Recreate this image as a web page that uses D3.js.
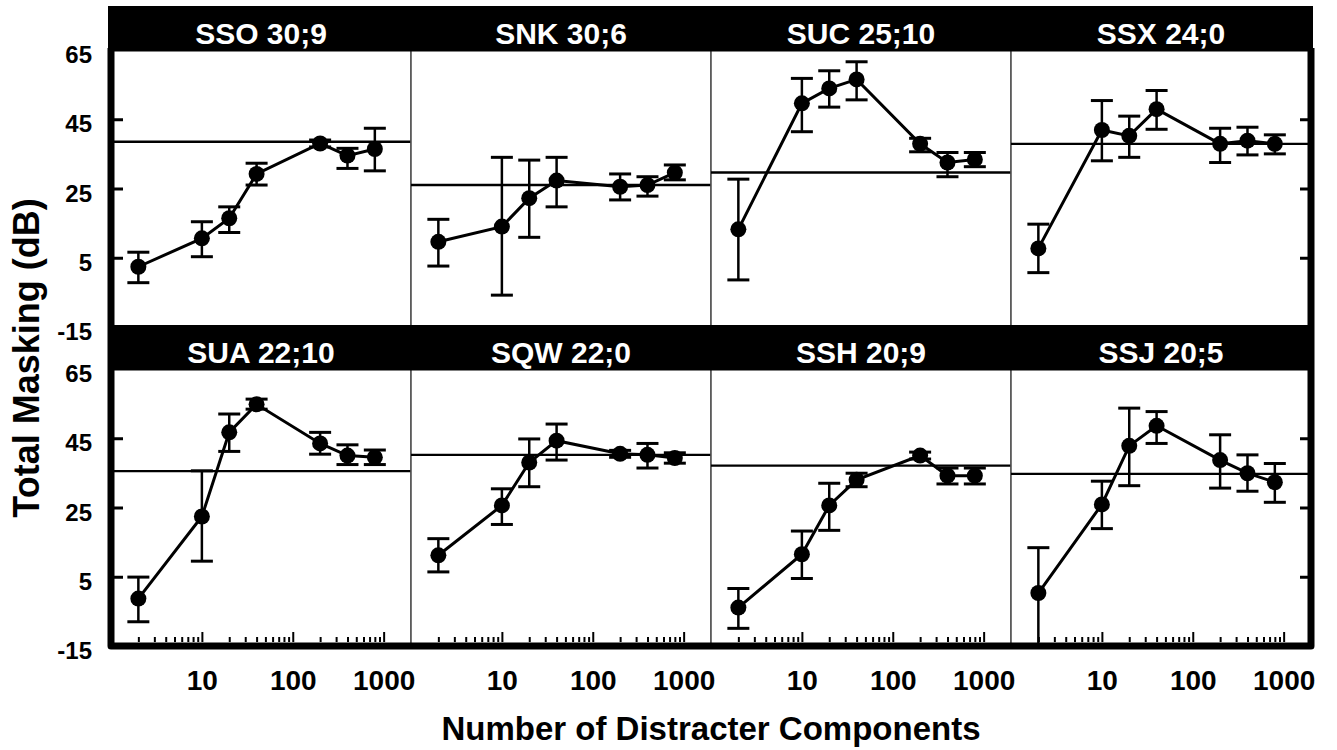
<!DOCTYPE html>
<html>
<head>
<meta charset="utf-8">
<script src="https://cdn.jsdelivr.net/npm/d3@7"></script>
<style>
  html, body { margin: 0; padding: 0; background: #fff; }
  text { font-family: "Liberation Sans", Arial, Helvetica, sans-serif; font-weight: bold; }
</style>
</head>
<body>
<script>
// ---- Data ----
const nComponents = [2, 10, 20, 40, 200, 400, 800];
const panelTitles = ["SSO 30;9", "SNK 30;6", "SUC 25;10", "SSX 24;0",
                     "SUA 22;10", "SQW 22;0", "SSH 20;9", "SSJ 20;5"];
const meanMasking = [
  [2.4, 10.6, 16.4, 29.2, 38.0, 34.5, 36.4],
  [9.6, 14.0, 22.2, 27.3, 25.5, 26.0, 29.6],
  [13.2, 49.6, 53.9, 56.5, 37.9, 32.5, 33.4],
  [7.7, 41.9, 40.2, 47.9, 37.9, 38.8, 37.9],
  [-1.3, 22.4, 46.7, 54.8, 43.5, 40.0, 39.5],
  [11.2, 25.6, 38.0, 44.3, 40.5, 40.2, 39.3],
  [-3.9, 11.5, 25.6, 33.0, 40.0, 34.2, 34.2],
  [0.3, 25.9, 42.8, 48.6, 38.7, 34.9, 32.3]
];
const errTop = [
  [6.6, 15.4, 19.7, 32.3, 39.0, 36.6, 42.4],
  [16.1, 34.0, 33.2, 34.0, 29.2, 28.4, 31.8],
  [27.7, 56.8, 59.0, 61.6, 39.5, 35.4, 35.4],
  [14.7, 50.4, 45.9, 53.3, 42.4, 42.7, 40.5],
  [4.9, 35.6, 52.0, 56.3, 46.7, 43.1, 41.6],
  [16.0, 30.4, 44.8, 49.1, 41.5, 43.5, 40.8],
  [1.6, 18.2, 32.0, 34.9, 41.0, 36.4, 36.4],
  [13.4, 32.6, 53.7, 52.7, 46.0, 40.2, 37.7]
];
const errBottom = [
  [-2.2, 5.3, 12.3, 26.0, 37.0, 30.8, 30.1],
  [2.6, -5.8, 10.9, 19.7, 21.7, 22.8, 27.5],
  [-1.4, 41.4, 48.5, 50.6, 35.6, 28.4, 31.3],
  [0.7, 33.0, 34.0, 42.1, 32.5, 34.7, 35.0],
  [-8.0, 9.5, 41.2, 53.4, 40.4, 37.4, 37.4],
  [6.4, 20.1, 31.0, 38.7, 39.5, 36.4, 37.8],
  [-9.9, 4.5, 18.4, 31.0, 39.0, 31.8, 31.8],
  [-15.0, 18.9, 31.3, 43.5, 30.6, 29.7, 26.5]
];
const referenceMasking = [38.5, 26.0, 29.6, 37.9, 35.5, 40.2, 37.1, 34.7];
const yTickLabels = [-15, 5, 25, 45, 65];
const yInnerTicks = [5, 25, 45];
const xTickLabels = [10, 100, 1000];
const yTitle = "Total Masking (dB)";
const xTitle = "Number of Distracter Components";

// ---- Layout ----
const W = 1337, H = 750;
const left = 111, panelW = 300, plotH = 277;
const rowTops = [50, 369];
const right = left + 4 * panelW;

const svg = d3.select("body").append("svg").attr("width", W).attr("height", H);
svg.append("rect").attr("width", W).attr("height", H).attr("fill", "#fff");

const x = d3.scaleLog().domain([1, 2000]).range([0, panelW]);
const y = d3.scaleLinear().domain([-15, 65]).range([plotH, 0]);
const fmt = v => String(v); // plain hyphen-minus like the reference

const line = d3.line().x((d, i) => x(nComponents[i])).y(d => y(d));

panelTitles.forEach((title, p) => {
  const row = Math.floor(p / 4), col = p % 4;
  const g = svg.append("g").attr("transform", `translate(${left + col * panelW},${rowTops[row]})`);

  g.append("rect").attr("x", 0).attr("y", 0).attr("width", panelW).attr("height", plotH)
    .attr("fill", "#fff").attr("stroke", "#555").attr("stroke-width", 1.6);

  // reference line
  g.append("line")
    .attr("x1", x.range()[0]).attr("x2", x.range()[1])
    .attr("y1", y(referenceMasking[p])).attr("y2", y(referenceMasking[p]))
    .attr("stroke", "#000").attr("stroke-width", 2.4);

  // connecting line
  g.append("path").datum(meanMasking[p]).attr("d", line)
    .attr("fill", "none").attr("stroke", "#000").attr("stroke-width", 3);

  // error bars
  const eb = g.selectAll(".eb").data(nComponents).enter().append("g");
  eb.append("line")
    .attr("x1", d => x(d)).attr("x2", d => x(d))
    .attr("y1", (d, i) => y(errTop[p][i])).attr("y2", (d, i) => y(errBottom[p][i]))
    .attr("stroke", "#000").attr("stroke-width", 2.5);
  eb.append("line")
    .attr("x1", d => x(d) - 11).attr("x2", d => x(d) + 11)
    .attr("y1", (d, i) => y(errTop[p][i])).attr("y2", (d, i) => y(errTop[p][i]))
    .attr("stroke", "#000").attr("stroke-width", 3);
  eb.append("line")
    .attr("x1", d => x(d) - 11).attr("x2", d => x(d) + 11)
    .attr("y1", (d, i) => y(errBottom[p][i])).attr("y2", (d, i) => y(errBottom[p][i]))
    .attr("stroke", "#000").attr("stroke-width", 3);

  // markers
  g.selectAll("circle").data(meanMasking[p]).enter().append("circle")
    .attr("cx", (d, i) => x(nComponents[i])).attr("cy", d => y(d)).attr("r", 8)
    .attr("fill", "#000");

  // x ticks on bottom row
  if (row === 1) {
    const all = x.ticks().filter(v => v > 1 && v <= 1000);
    const majors = all.filter(v => xTickLabels.includes(v));
    const minors = all.filter(v => !xTickLabels.includes(v));
    const minorAx = g.append("g").attr("transform", `translate(0,${plotH - 4})`)
      .call(d3.axisTop(x).tickValues(minors).tickSize(5).tickFormat(""));
    const majorAx = g.append("g").attr("transform", `translate(0,${plotH - 4})`)
      .call(d3.axisTop(x).tickValues(majors).tickSize(10).tickFormat(""));
    [minorAx, majorAx].forEach(a => {
      a.select(".domain").remove();
      a.selectAll(".tick line").attr("stroke", "#000").attr("stroke-width", 2);
    });
    const lab = g.append("g").attr("transform", `translate(0,${plotH})`)
      .call(d3.axisBottom(x).tickValues(xTickLabels).tickSize(0).tickPadding(24).tickFormat(fmt));
    lab.select(".domain").remove();
    lab.selectAll("text").attr("font-size", 28).attr("fill", "#000")
      .style("font-family", '"Liberation Sans", Arial, sans-serif').style("font-weight", "bold");
  }
});

// title bars
rowTops.forEach((top, row) => {
  svg.append("rect").attr("x", left - 3).attr("y", top - 44).attr("width", right - left + 5).attr("height", 45.5)
    .attr("fill", "#000");
  for (let col = 0; col < 4; col++) {
    svg.append("text")
      .attr("x", left + col * panelW + panelW / 2).attr("y", top - 6.5)
      .attr("text-anchor", "middle").attr("fill", "#fff").attr("font-size", 30)
      .text(panelTitles[row * 4 + col]);
  }
});

// thick frame: left, bottom, right
svg.append("path")
  .attr("d", d3.line()([[left, rowTops[0] - 2], [left, rowTops[1] + plotH], [right, rowTops[1] + plotH], [right, rowTops[0] - 2]]))
  .attr("fill", "none").attr("stroke", "#000").attr("stroke-width", 7).attr("stroke-linejoin", "round");

// y ticks and labels
rowTops.forEach(top => {
  const lt = svg.append("g").attr("transform", `translate(${left},${top})`)
    .call(d3.axisRight(y).tickValues(yInnerTicks).tickSize(12).tickFormat(""));
  const rt = svg.append("g").attr("transform", `translate(${right},${top})`)
    .call(d3.axisLeft(y).tickValues(yInnerTicks).tickSize(11).tickFormat(""));
  [lt, rt].forEach(a => {
    a.select(".domain").remove();
    a.selectAll(".tick line").attr("stroke", "#000").attr("stroke-width", 3);
  });
  const lab = svg.append("g").attr("transform", `translate(${left},${top})`)
    .call(d3.axisLeft(y).tickValues(yTickLabels).tickSize(0).tickPadding(19).tickFormat(fmt));
  lab.select(".domain").remove();
  lab.selectAll("text").attr("font-size", 24).attr("fill", "#000").attr("y", 5)
    .style("font-family", '"Liberation Sans", Arial, sans-serif').style("font-weight", "bold");
});

// axis titles
svg.append("text")
  .attr("transform", `translate(39,${358}) rotate(-90)`)
  .attr("text-anchor", "middle").attr("font-size", 36).attr("fill", "#000")
  .text(yTitle);
svg.append("text")
  .attr("x", (left + right) / 2).attr("y", 740)
  .attr("text-anchor", "middle").attr("font-size", 33).attr("fill", "#000")
  .text(xTitle);
</script>
</body>
</html>
